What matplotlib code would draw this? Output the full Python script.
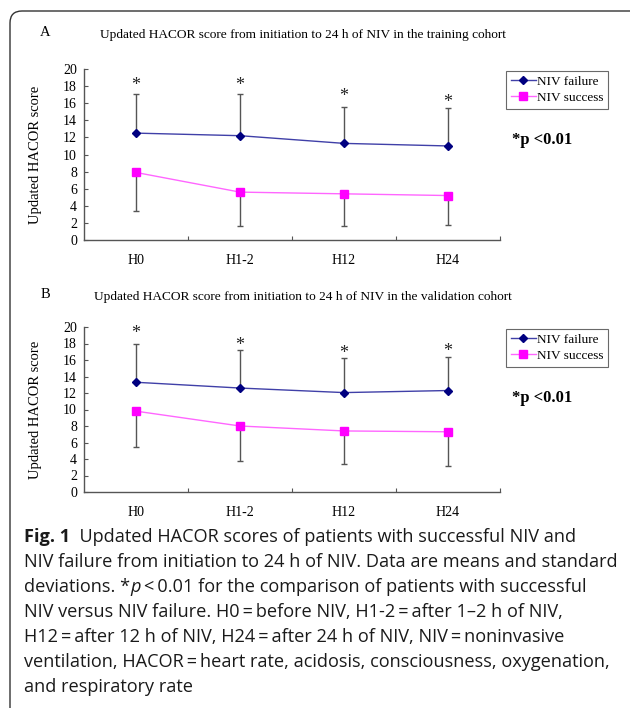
import matplotlib
matplotlib.use("Agg")
import matplotlib.pyplot as plt
from matplotlib.path import Path
from matplotlib.patches import PathPatch
from matplotlib.transforms import offset_copy

# data
times = ["H0", "H1-2", "H12", "H24"]

fail_a = [12.5, 12.2, 11.3, 11.0]
fail_a_sd = [4.6, 4.9, 4.3, 4.4]
succ_a = [7.9, 5.6, 5.4, 5.2]
succ_a_sd = [4.5, 4.0, 3.75, 3.5]
star_a = [18.6, 18.6, 17.3, 16.6]

fail_b = [13.3, 12.6, 12.05, 12.3]
fail_b_sd = [4.7, 4.6, 4.25, 4.1]
succ_b = [9.8, 8.0, 7.4, 7.3]
succ_b_sd = [4.4, 4.2, 4.0, 4.1]
star_b = [19.7, 18.3, 17.3, 17.5]

titles = ["Updated HACOR score from initiation to 24 h of NIV in the training cohort",
          "Updated HACOR score from initiation to 24 h of NIV in the validation cohort"]

W, H = 630, 708
fig = plt.figure(figsize=(W / 100, H / 100), dpi=100)
serif = "Liberation Serif"


def px(x, y):
    return x / W, 1 - y / H


def panel(top, bottom, fail, fail_sd, succ, succ_sd, stars, letter, title, title_y):
    l, b = px(84, bottom)
    _, t = px(0, top)
    ax = fig.add_axes([l, b, 416 / W, t - b])
    x = range(len(times))
    ax.errorbar(x, fail, yerr=[[0] * 4, fail_sd], fmt="none", ecolor="#555555",
                elinewidth=1, capsize=2.5, capthick=1, zorder=1)
    ax.errorbar(x, succ, yerr=[succ_sd, [0] * 4], fmt="none", ecolor="#555555",
                elinewidth=1, capsize=2.5, capthick=1, zorder=1)
    ax.plot(x, fail, color="#4040a8", lw=1, marker="D", ms=4.5,
            mfc="#000080", mec="#000080", label="NIV failure", zorder=3)
    ax.plot(x, succ, color="#ff66ff", lw=1, marker="s", ms=6,
            mfc="#ff00ff", mec="#ff00ff", label="NIV success", zorder=3)
    star_tr = offset_copy(ax.transData, fig=fig, y=-3, units="points")
    for i, s in enumerate(stars):
        ax.text(i, s, "*", ha="center", va="center", fontsize=13,
                family=serif, color="#222222", transform=star_tr)
    ax.set_xlim(-0.5, 3.5)
    ax.set_ylim(0, 20)
    ax.set_yticks(range(0, 21, 2))
    ax.set_xticks([0.5, 1.5, 2.5, 3.5])
    ax.set_xticklabels([])
    ax.set_xticks(list(x), minor=True)
    ax.set_xticklabels(times, minor=True, family=serif, fontsize=10)
    ax.tick_params(axis="x", which="major", direction="in", length=3, color="#555555")
    ax.tick_params(axis="x", which="minor", length=0, pad=10)
    ax.tick_params(axis="y", direction="in", length=3, pad=5, color="#555555",
                   labelsize=10)
    for lab in ax.get_yticklabels():
        lab.set_family(serif)
    for sp in ["top", "right"]:
        ax.spines[sp].set_visible(False)
    for sp in ["left", "bottom"]:
        ax.spines[sp].set_color("#555555")
        ax.spines[sp].set_linewidth(1)
    ax.set_ylabel("Updated HACOR score", family=serif, fontsize=10.5)
    ax.yaxis.set_label_coords(-0.101, 0.5)

    h, labs = ax.get_legend_handles_labels()
    leg = fig.legend(h, labs, loc="upper left", bbox_to_anchor=px(506, top + 2),
                     frameon=True, fancybox=False, handlelength=1.9,
                     handletextpad=0.1, borderpad=0.35, labelspacing=0.3,
                     borderaxespad=0, prop={"family": serif, "size": 9.5})
    leg.get_frame().set_edgecolor("#444444")
    leg.get_frame().set_linewidth(0.8)

    fig.text(*px(512, top + 71), "*p <0.01", family=serif, fontsize=12,
             fontweight="bold", va="center", ha="left")
    fig.text(*px(45, title_y - 3), letter, family=serif, fontsize=10.5,
             va="center", ha="center")
    fig.text(*px(303, title_y), title, family=serif, fontsize=9.6,
             va="center", ha="center")
    return ax


panel(69, 240, fail_a, fail_a_sd, succ_a, succ_a_sd, star_a, "A", titles[0], 35)
panel(327, 492, fail_b, fail_b_sd, succ_b, succ_b_sd, star_b, "B", titles[1], 297)

# rounded frame on the left and top
r = 0.12
verts = [(0.10, -0.2), (0.10, 6.97 - r), (0.10, 6.97), (0.10 + r, 6.97), (6.6, 6.97)]
codes = [Path.MOVETO, Path.LINETO, Path.CURVE3, Path.CURVE3, Path.LINETO]
fig.patches.append(PathPatch(Path(verts, codes), transform=fig.dpi_scale_trans,
                             fill=False, lw=1, edgecolor="#333333"))

# caption
cap_font = "Open Sans"
cap_size = 13.1
renderer = fig.canvas.get_renderer()


def runs(y, parts, x0=24):
    x = x0 / W
    for s, w, st in parts:
        t = fig.text(x, 1 - y / H, s, family=cap_font, fontsize=cap_size,
                     fontweight=w, fontstyle=st, va="center", ha="left",
                     color="#1a1a1a")
        bb = t.get_window_extent(renderer)
        x = bb.x1 / W


n, bo, it = "normal", "bold", "italic"
lines = [
    [("Fig. 1", bo, n), ("  Updated HACOR scores of patients with successful NIV and", n, n)],
    [("NIV failure from initiation to 24 h of NIV. Data are means and standard", n, n)],
    [("deviations. *", n, n), ("p", n, it), ("\u2009<\u20090.01 for the comparison of patients with successful", n, n)],
    [("NIV versus NIV failure. H0\u2009=\u2009before NIV, H1-2\u2009=\u2009after 1\u20132 h of NIV,", n, n)],
    [("H12\u2009=\u2009after 12 h of NIV, H24\u2009=\u2009after 24 h of NIV, NIV\u2009=\u2009noninvasive", n, n)],
    [("ventilation, HACOR\u2009=\u2009heart rate, acidosis, consciousness, oxygenation,", n, n)],
    [("and respiratory rate", n, n)],
]
for k, parts in enumerate(lines):
    runs(537 + 25 * k, parts)

fig.savefig("out.png", dpi=100)
